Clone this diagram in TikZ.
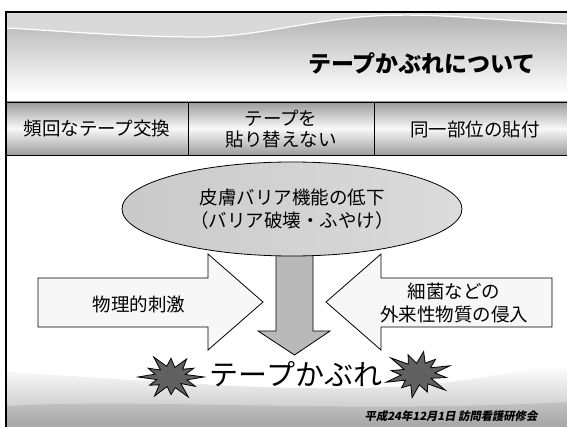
\documentclass[tikz,border=0pt]{standalone}
\usepackage{fontspec}
\setmainfont{Noto Sans CJK JP}
\newfontfamily\footfont[FakeSlant=0.2]{Noto Sans CJK JP}
\usetikzlibrary{shapes.geometric}

\tikzset{
  txt/.style={font=\fontsize{18.5}{23}\selectfont, align=center, inner sep=0pt},
  blockarrow/.style={draw, line width=0.8pt, line join=miter},
  burst/.style={draw, line width=0.8pt, fill=black!62, line join=miter}
}
\newcommand{\burstpts}{15/0.5,30/0.85,45/0.42,60/1.05,75/0.5,90/0.8,105/0.45,120/1.0,135/0.5,150/0.75,165/0.45,180/1.0,195/0.5,210/0.8,225/0.45,240/1.05,255/0.5,270/0.85,285/0.45,300/0.95,315/0.5,330/0.8,345/0.45}

\begin{document}
\begin{tikzpicture}[x=1pt,y=-1pt]
  \useasboundingbox (0,0) rectangle (567,427);
  %% Header
  \shade[top color=gray!62, bottom color=white] (6,12) rectangle (567,95);
  \fill[gray!30] (6,12) -- (567,12) -- (567,24) .. controls (470,18) and (420,12) .. (360,17)
    .. controls (290,24) and (250,38) .. (190,37) .. controls (110,36) and (50,30) .. (6,28) -- cycle;
  \draw[white, line width=1.2pt] (567,24) .. controls (470,18) and (420,12) .. (360,17)
    .. controls (290,24) and (250,38) .. (190,37) .. controls (110,36) and (50,30) .. (6,28);
  \node[font=\bfseries\fontsize{23}{26}\selectfont, inner sep=0pt] (title) at (422,63) {テープかぶれについて};
  %% Band of causes
  \shade[top color=gray!78, bottom color=gray!78, middle color=gray!5] (6,102) rectangle (567,155);
  \draw[line width=0.8pt] (6,102) -- (567,102) (6,155) -- (567,155)
    (188,102) -- (188,155) (374,102) -- (374,155);
  \node[txt] (often) at (97,129) {頻回なテープ交換};
  \node[txt, font=\fontsize{18.5}{21}\selectfont] (noswap) at (281,129) {テープを\\貼り替えない};
  \node[txt] (samesite) at (475,129) {同一部位の貼付};
  %% Bottom wave
  \shade[top color=white, bottom color=gray!55] (6,372) .. controls (150,380) and (300,395) .. (420,385)
    .. controls (480,380) and (530,368) .. (567,365) -- (567,427) -- (6,427) -- cycle;
  \shade[top color=gray!45, bottom color=gray!70] (6,406) .. controls (150,398) and (350,414) .. (567,402)
    -- (567,427) -- (6,427) -- cycle;
  %% Down arrow
  \draw[blockarrow, fill=gray!55] (276,245) -- (313,245) -- (313,331) -- (330,331) -- (294.5,355)
    -- (258,331) -- (276,331) -- cycle;
  %% Barrier
  \node[ellipse, draw, line width=0.8pt, left color=gray!42, right color=gray!28,
    minimum width=340pt, minimum height=94pt, txt] (barrier) at (292,209)
    {皮膚バリア機能の低下\\（バリア破壊・ふやけ）};
  %% Side arrows
  \draw[blockarrow, fill=gray!6] (38,278) -- (208,278) -- (208,254) -- (263,302)
    -- (208,350) -- (208,327) -- (38,327) -- cycle;
  \draw[blockarrow, fill=gray!6] (552,278) -- (381,278) -- (381,254) -- (326,302)
    -- (381,350) -- (381,327) -- (552,327) -- cycle;
  \node[txt] (phys) at (139,304) {物理的刺激};
  \node[txt] (germs) at (454,303) {細菌などの\\外来性物質の侵入};
  %% Result
  \begin{scope}[shift={(171,377)}, xscale=33, yscale=22]
    \draw[burst] (0:1) \foreach \a/\r in \burstpts { -- (\a:\r) } -- cycle;
  \end{scope}
  \begin{scope}[shift={(418,374)}, xscale=34, yscale=24, rotate=20]
    \draw[burst] (0:1) \foreach \a/\r in \burstpts { -- (\a:\r) } -- cycle;
  \end{scope}
  \node[inner sep=0pt, font=\fontsize{29}{32}\selectfont] (result) at (296,374) {テープかぶれ};
  %% Footer
  \node[inner sep=0pt, font=\footfont\bfseries\fontsize{11.3}{13}\selectfont] (date) at (451,416)
    {平成24年12月1日\ 訪問看護研修会};
  %% Frame
  \draw[line width=1.2pt] (6,427) -- (6,12) -- (567,12);
\end{tikzpicture}
\end{document}
